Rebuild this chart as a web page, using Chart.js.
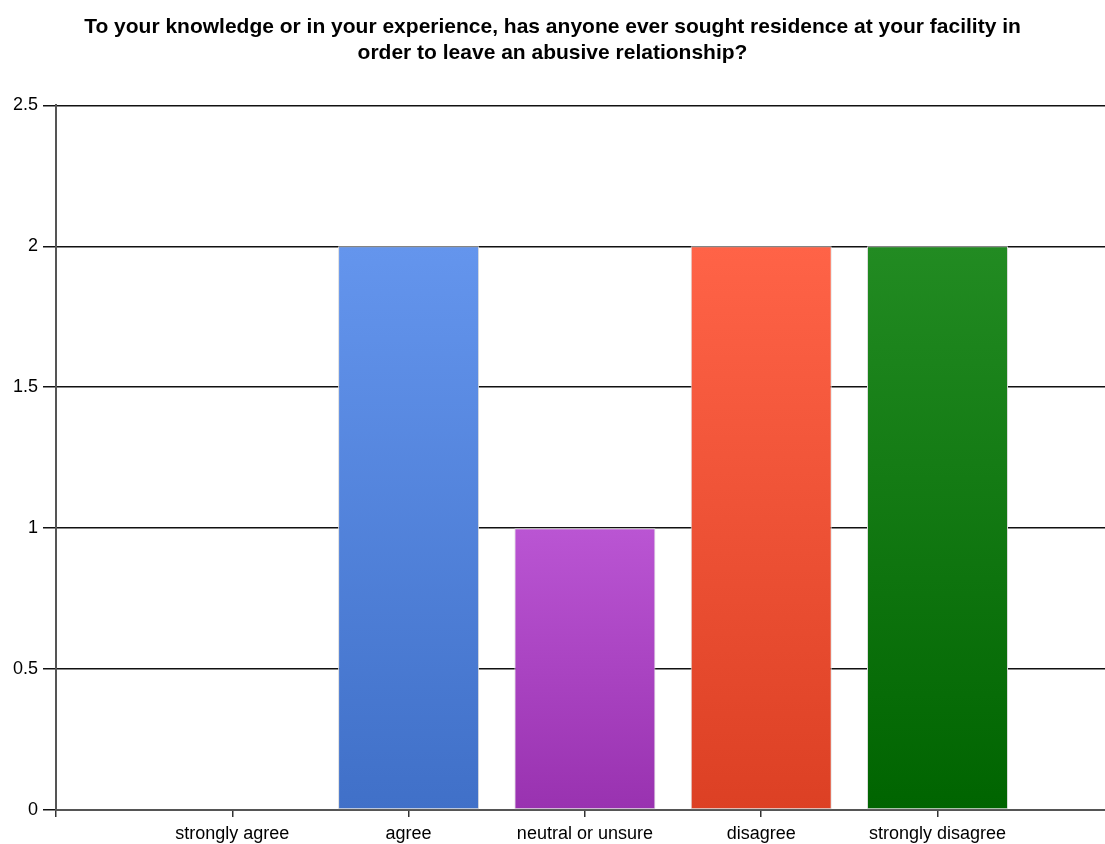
<!DOCTYPE html>
<html>
<head>
<meta charset="utf-8">
<script src="https://cdn.jsdelivr.net/npm/chart.js@4/dist/chart.umd.min.js"></script>
<style>
  html, body { margin: 0; padding: 0; background: #fff; }
  #wrap { width: 1105px; height: 844px; position: relative; }
</style>
</head>
<body>
<div id="wrap"><canvas id="chart"></canvas></div>
<script>
// dados do gráfico
const titleLines = [
    "To your knowledge or in your experience, has anyone ever sought residence at your facility in",
    "order to leave an abusive relationship?"
];
const categories = ["strongly agree", "agree", "neutral or unsure", "disagree", "strongly disagree"];
const counts = [0, 2, 1, 2, 2];
const yTicks = [0, 0.5, 1, 1.5, 2, 2.5];
// cor de cima / cor de baixo de cada barra
const topColors = ["#6495ED", "#6495ED", "#BA55D3", "#FF6347", "#228B22"];
const bottomColors = ["#4070C8", "#4070C8", "#9932B0", "#DC4024", "#006400"];

const FONT = "'Liberation Sans', Arial, sans-serif";

function barFill(ctx) {
    const chart = ctx.chart;
    const i = ctx.dataIndex;
    if (!chart.chartArea || !chart.scales.y) return topColors[i];
    const y = chart.scales.y;
    const top = y.getPixelForValue(counts[i]);
    const bottom = y.getPixelForValue(0);
    if (bottom - top < 1) return topColors[i];
    const g = chart.ctx.createLinearGradient(0, top, 0, bottom);
    g.addColorStop(0, topColors[i]);
    g.addColorStop(1, bottomColors[i]);
    return g;
}

new Chart(document.getElementById("chart").getContext("2d"), {
    type: "bar",
    data: {
        datasets: [{
            data: categories.map((c, i) => ({ x: i + 1, y: counts[i] })),
            backgroundColor: barFill,
            borderColor: "#dddddd",
            borderWidth: 1,
            borderSkipped: false,
            barPercentage: 0.8,
            categoryPercentage: 1
        }]
    },
    options: {
        responsive: true,
        maintainAspectRatio: false,
        animation: false,
        layout: { padding: { left: 0, right: 0, top: 0, bottom: 0 } },
        plugins: {
            legend: { display: false },
            tooltip: { enabled: false },
            title: {
                display: true,
                text: titleLines,
                color: "#000",
                font: { family: FONT, size: 21, weight: "bold", lineHeight: 1.2 },
                padding: { top: 15, bottom: 40 }
            }
        },
        scales: {
            x: {
                type: "linear",
                min: 0,
                max: 5.95,
                offset: false,
                afterBuildTicks: s => { s.ticks = [0, 1, 2, 3, 4, 5].map(v => ({ value: v })); },
                afterFit: s => { s.height = 34; },
                ticks: {
                    color: "#000",
                    font: { family: FONT, size: 18 },
                    padding: 6,
                    maxRotation: 0,
                    autoSkip: false,
                    callback: v => (v >= 1 && v <= categories.length) ? categories[v - 1] : ""
                },
                grid: { offset: false, drawOnChartArea: false, drawTicks: true, tickLength: 7, color: "#333", lineWidth: 1.5 },
                border: { display: true, color: "#555", width: 2 }
            },
            y: {
                min: 0,
                max: 2.5,
                afterBuildTicks: s => { s.ticks = yTicks.map(v => ({ value: v })); },
                afterFit: s => { s.width = 56; },
                ticks: {
                    color: "#000",
                    font: { family: FONT, size: 18 },
                    padding: 5,
                    callback: v => String(v)
                },
                grid: { color: "#111", lineWidth: 1.5, tickLength: 13, drawTicks: true },
                border: { display: true, color: "#555", width: 2 }
            }
        }
    }
});
</script>
</body>
</html>
